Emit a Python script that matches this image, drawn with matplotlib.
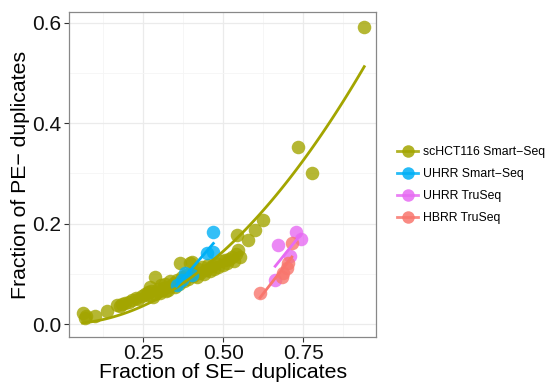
import numpy as np
import matplotlib
matplotlib.use("Agg")
import matplotlib.pyplot as plt
from matplotlib.lines import Line2D

plt.rcParams['font.family'] = ['Liberation Sans', 'DejaVu Sans']

# Daten: Anteil SE- und PE-Duplikate je Probe
groups = ["scHCT116 Smart\u2212Seq", "UHRR Smart\u2212Seq", "UHRR TruSeq", "HBRR TruSeq"]
colors = ["#A3A500", "#00B0F6", "#E76BF3", "#F8766D"]
# Potenzen der Fit-Basis je Gruppe (Kurve durch Ursprung fuer scHCT116)
fit_powers = [[2], [1, 0], [1, 0], [1, 0]]

sc_x = [0.061, 0.068, 0.071, 0.099, 0.136, 0.167, 0.177, 0.185, 0.193, 0.205,
        0.215, 0.229, 0.235, 0.245, 0.255, 0.262, 0.266, 0.271, 0.275, 0.281,
        0.287, 0.288, 0.295, 0.302, 0.305, 0.312, 0.318, 0.320, 0.328, 0.333,
        0.338, 0.345, 0.350, 0.356, 0.362, 0.365, 0.370, 0.378, 0.385, 0.390,
        0.396, 0.401, 0.405, 0.410, 0.418, 0.422, 0.428, 0.435, 0.440, 0.446,
        0.452, 0.458, 0.465, 0.472, 0.478, 0.485, 0.492, 0.498, 0.505, 0.512,
        0.518, 0.526, 0.532, 0.540, 0.542, 0.547, 0.552, 0.578, 0.599, 0.625,
        0.734, 0.778, 0.940]
sc_y = [0.022, 0.013, 0.016, 0.017, 0.026, 0.038, 0.036, 0.040, 0.041, 0.044,
        0.047, 0.052, 0.050, 0.056, 0.060, 0.058, 0.064, 0.074, 0.066, 0.054,
        0.094, 0.060, 0.070, 0.062, 0.078, 0.072, 0.080, 0.066, 0.068, 0.086,
        0.076, 0.082, 0.074, 0.088, 0.080, 0.121, 0.094, 0.086, 0.098, 0.090,
        0.121, 0.124, 0.096, 0.104, 0.094, 0.110, 0.102, 0.114, 0.100, 0.108,
        0.118, 0.106, 0.116, 0.110, 0.122, 0.114, 0.126, 0.118, 0.128, 0.122,
        0.130, 0.134, 0.126, 0.140, 0.177, 0.148, 0.134, 0.167, 0.187, 0.207,
        0.353, 0.300, 0.592]

uhrr_ss_x = [0.469, 0.448, 0.469, 0.380, 0.401, 0.370, 0.354]
uhrr_ss_y = [0.184, 0.141, 0.144, 0.101, 0.098, 0.088, 0.078]

uhrr_ts_x = [0.727, 0.742, 0.672, 0.708, 0.662]
uhrr_ts_y = [0.184, 0.169, 0.158, 0.136, 0.088]

hbrr_ts_x = [0.714, 0.703, 0.698, 0.6875, 0.682, 0.615]
hbrr_ts_y = [0.162, 0.121, 0.111, 0.101, 0.094, 0.062]

xs = [sc_x, uhrr_ss_x, uhrr_ts_x, hbrr_ts_x]
ys = [sc_y, uhrr_ss_y, uhrr_ts_y, hbrr_ts_y]


# Kleinste-Quadrate-Fit mit gegebenen Potenzen
def fit_curve(x, y, powers):
    x = np.asarray(x)
    A = np.column_stack([x ** p for p in powers])
    coef, *_ = np.linalg.lstsq(A, np.asarray(y), rcond=None)
    xx = np.linspace(x.min(), x.max(), 100)
    yy = np.column_stack([xx ** p for p in powers]) @ coef
    return xx, yy


fig = plt.figure(figsize=(5.58, 3.86), dpi=100)
ax = fig.add_axes([0.124, 0.128, 0.55, 0.840])

# Punkte
for x, y, c in zip(xs, ys, colors):
    ax.scatter(x, y, s=95, color=c, alpha=0.8, linewidths=0, zorder=3)

# Angepasste Kurven
for x, y, c, p in zip(xs, ys, colors, fit_powers):
    xx, yy = fit_curve(x, y, p)
    ax.plot(xx, yy, color=c, lw=2.0, zorder=4)

ax.set_xlim(0.019, 0.977)
ax.set_ylim(-0.025, 0.621)
ax.set_xticks([0.25, 0.50, 0.75])
ax.set_xticklabels(["0.25", "0.50", "0.75"])
ax.set_yticks([0.0, 0.2, 0.4, 0.6])
ax.set_yticklabels(["0.0", "0.2", "0.4", "0.6"])
ax.set_xticks([0.125, 0.375, 0.625, 0.875], minor=True)
ax.set_yticks([0.1, 0.3, 0.5], minor=True)

ax.grid(True, which='major', color='#EBEBEB', lw=0.9, zorder=0)
ax.grid(True, which='minor', color='#F5F5F5', lw=0.6, zorder=0)
ax.set_axisbelow(True)
ax.tick_params(which='minor', length=0)
ax.tick_params(which='major', length=3.5, width=0.8, color='#333333',
               labelsize=15, labelcolor='#111111', pad=2)
for sp in ax.spines.values():
    sp.set_color('#888888')
    sp.set_linewidth(0.9)

ax.set_xlabel("Fraction of SE\u2212 duplicates", fontsize=15.3, labelpad=0)
ax.set_ylabel("Fraction of PE\u2212 duplicates", fontsize=15.3, labelpad=1.5)

# Legende
handles = [Line2D([0], [0], color=c, lw=2.0, marker='o', markersize=9,
                  markeredgewidth=0, alpha=0.85) for c in colors]
fig.legend(handles, groups, loc='center left', bbox_to_anchor=(0.692, 0.52),
           frameon=False, fontsize=8.8, handlelength=1.7, handletextpad=0.45,
           labelspacing=0.82)

fig.savefig("out.png", dpi=100)
